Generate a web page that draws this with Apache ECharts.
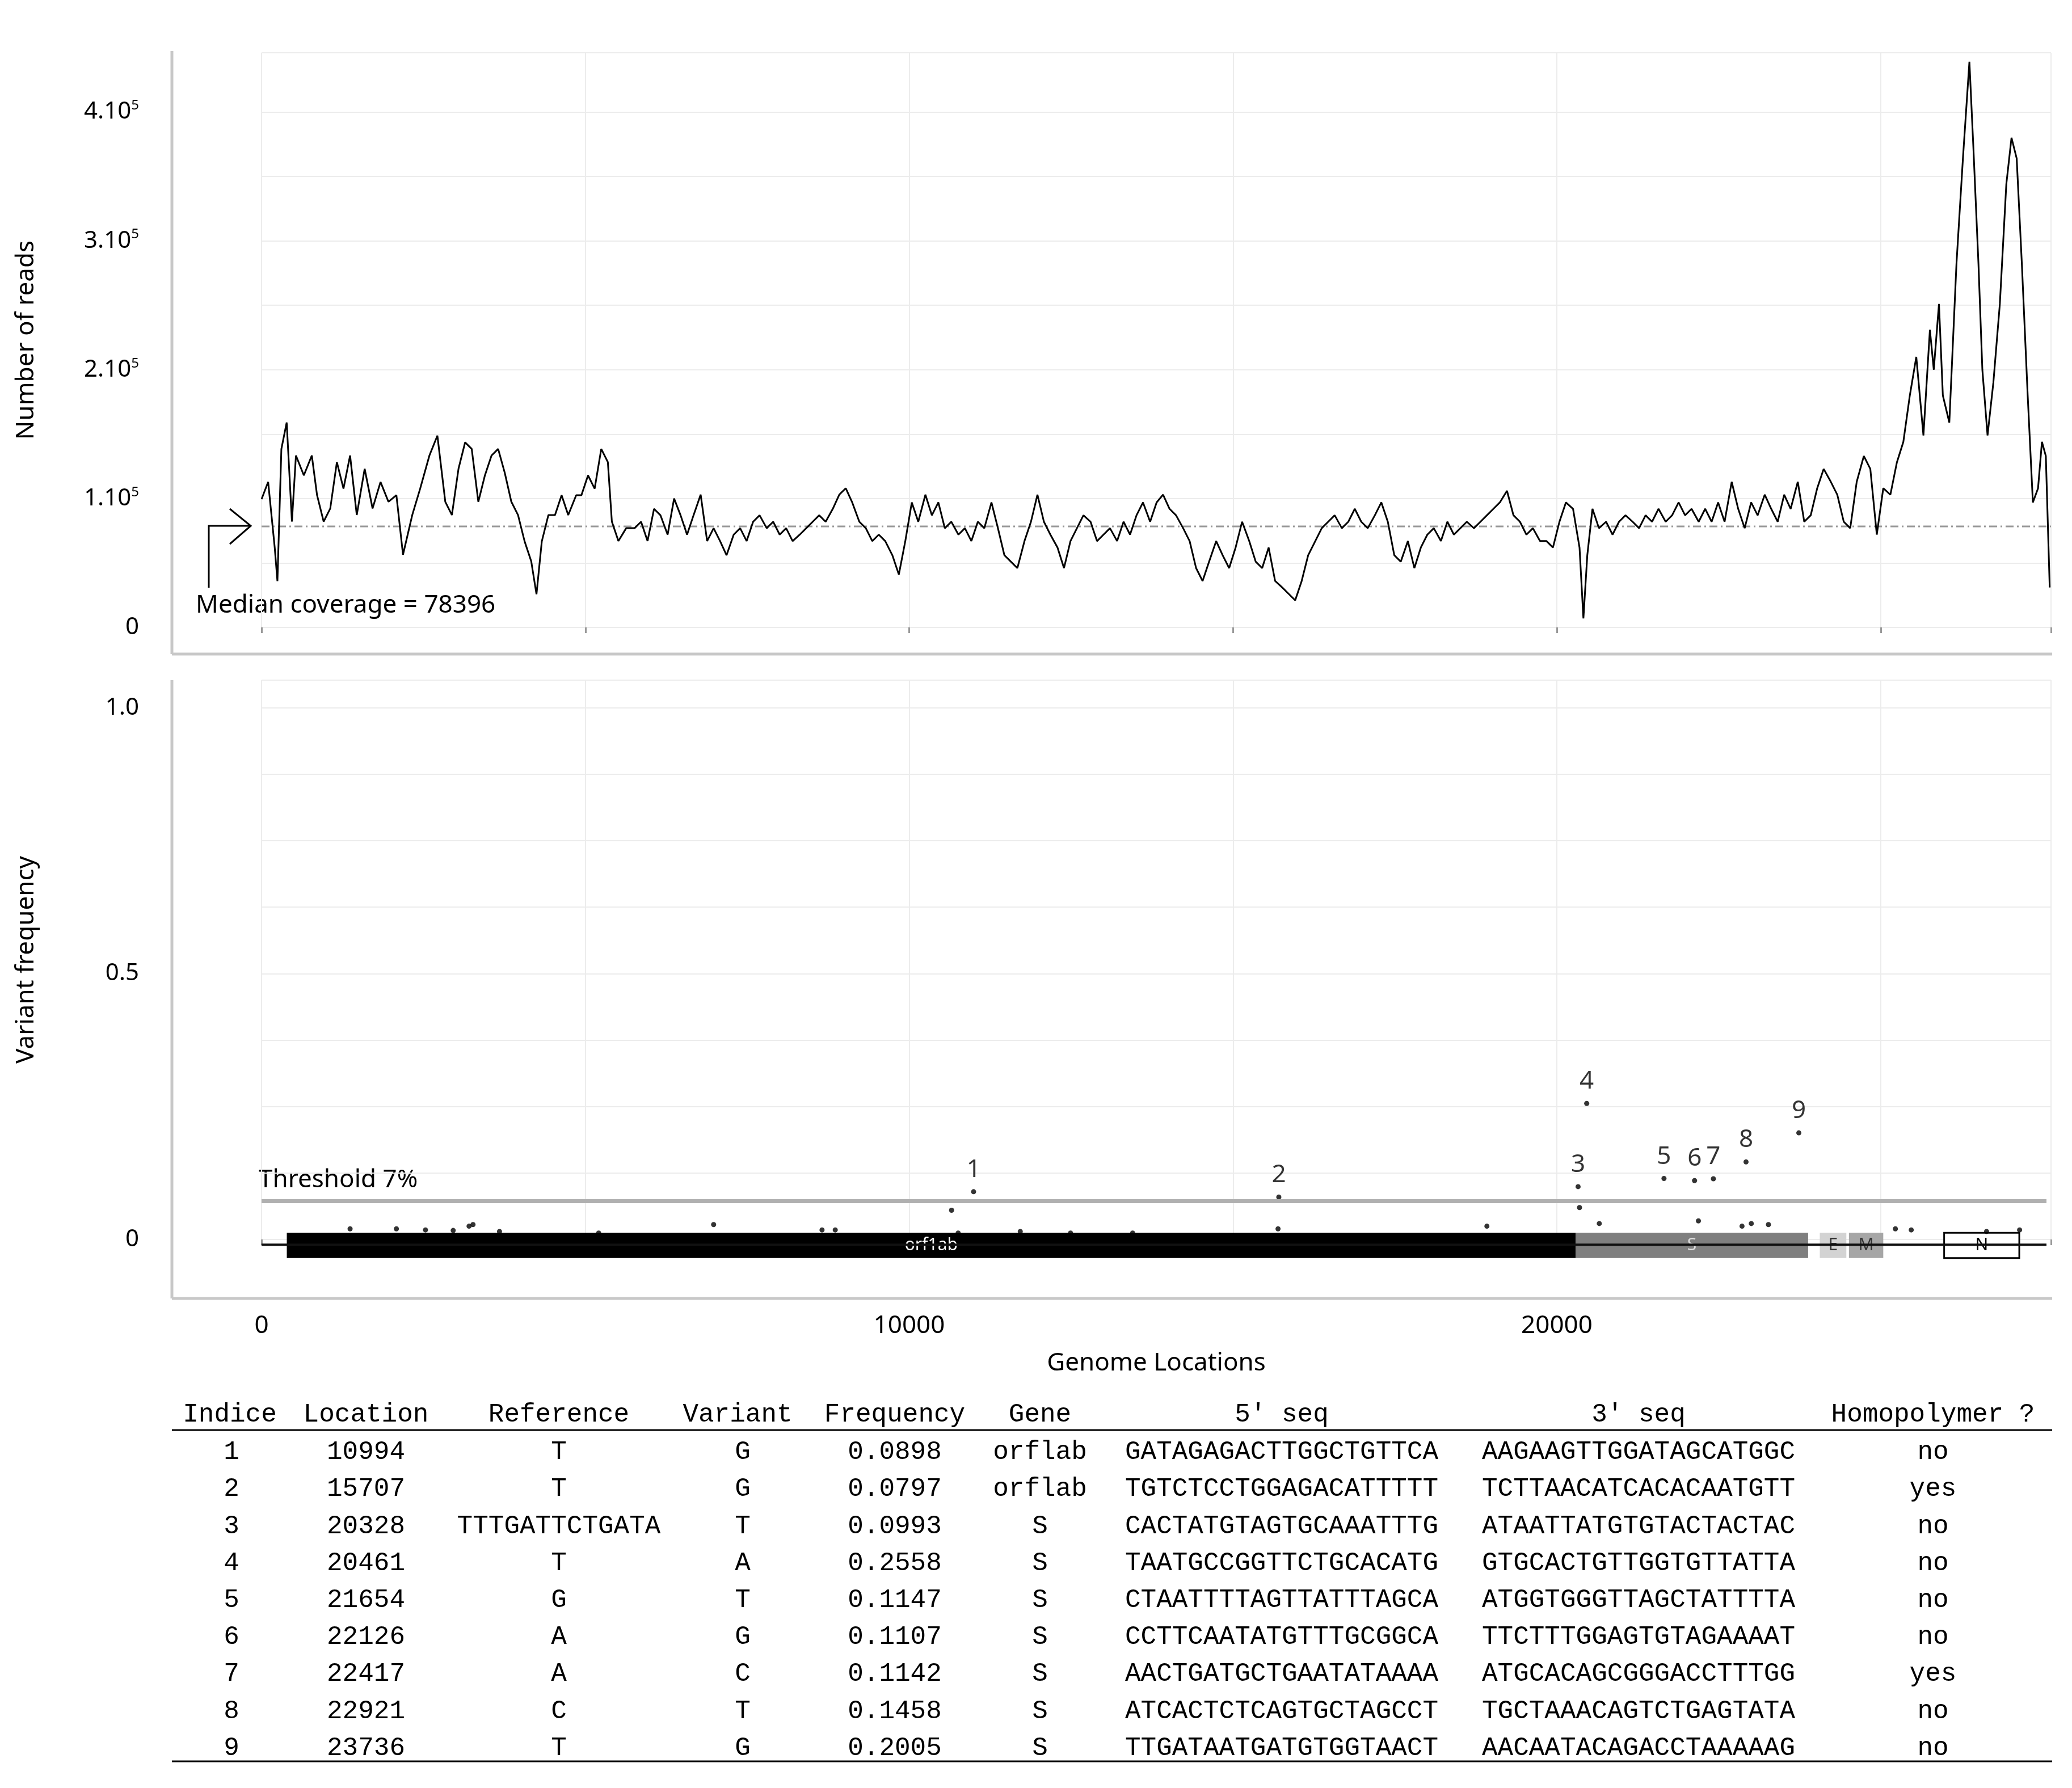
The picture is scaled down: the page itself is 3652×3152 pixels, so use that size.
<!DOCTYPE html>
<html><head><meta charset="utf-8">
<script src="https://cdn.jsdelivr.net/npm/echarts@6/dist/echarts.min.js"></script>
<style>html,body{margin:0;padding:0;background:#fff}#c{width:3652px;height:3152px}</style>
</head><body><div id="c"></div>
<script>
// coverage: [genome location, reads in thousands]
const coverage = [
[0,99.5],[102,112.9],[204,61.6],[245,35.9],[306,138.5],[388,159],[469,82.1],[531,133.4],[653,118],[776,133.4],[857,102.6],[959,82.1],[1061,92.3],[1163,128.3],[1265,107.7],[1367,133.4],[1470,87.2],[1592,123.1],[1714,92.3],[1837,112.9],[1959,97.5],[2082,102.6],[2184,56.4],[2327,87.2],[2449,107.7],[2592,133.4],[2715,148.8],[2837,97.5],[2939,87.2],[3041,123.1],[3143,143.6],[3245,138.5],[3347,97.5],[3449,118],[3551,133.4],[3653,138.5],[3755,120],[3857,97.5],[3960,87.2],[4062,66.7],[4164,51.3],[4245,25.7],[4327,66.7],[4429,87.2],[4531,87.2],[4633,102.6],[4735,87.2],[4858,102.6],[4939,102.6],[5041,118],[5143,107.7],[5245,138.5],[5347,128.3],[5409,82.1],
[5510,67],[5630,77],[5760,77],[5860,82],[5960,67],[6060,92],[6160,87],[6270,72],[6370,100],[6470,87],[6570,72],[6670,87],[6780,103],[6880,67],[6980,77],[7080,67],[7180,56],[7290,72],[7390,77],[7490,67],[7590,82],[7690,87],[7800,77],[7900,82],[8000,72],[8100,77],[8200,67],[8310,72],[8410,77],[8510,82],[8610,87],[8710,82],[8820,92],[8920,103],[9020,108],[9120,97],[9230,82],[9330,77],[9430,67],[9530,72],[9630,67],[9740,56],[9840,41],[9940,67],[10040,97],[10140,82],[10250,103],[10350,87],[10450,97],[10550,77],[10650,82],[10760,72],[10860,77],[10960,67],[11060,82],[11160,77],[11270,97],[11370,77],[11470,56],[11570,51],[11670,46],[11780,67],[11880,82],[11980,103],[12080,82],[12180,72],[12290,62],[12390,46],[12490,67],[12590,77],[12690,87],[12800,82],[12900,67],[13000,72],[13100,77],[13210,67],[13310,82],[13410,72],[13510,87],[13610,97],[13720,82],[13820,97],[13920,103],[14020,92],[14120,87],[14230,77],[14330,67],[14430,46],[14530,36],[14630,51],[14740,67],[14840,56],[14940,46],[15040,62],[15140,82],[15250,67],[15350,51],[15450,46],[15550,62],[15650,36],[15760,31],[15860,26],[15960,21],[16060,36],[16160,56],[16270,67],[16370,77],[16470,82],[16570,87],[16680,77],[16780,82],[16880,92],[16980,82],[17080,77],[17190,87],[17290,97],[17390,82],[17490,56],[17590,51],[17700,67],[17800,46],[17900,62],[18000,72],[18100,77],[18210,67],[18310,82],[18410,72],[18510,77],[18610,82],[18720,77],[18820,82],[18920,87],[19020,92],[19120,97],[19230,106],[19330,87],[19430,82],[19530,72],[19630,77],[19740,67],[19840,67],[19940,62],[20040,82],[20140,97],[20250,92],[20350,62],[20410,7],[20470,56],[20550,92],[20650,77],[20760,82],[20860,72],[20960,82],[21060,87],[21170,82],[21270,77],[21370,87],[21470,82],[21570,92],[21680,82],[21780,87],[21880,97],[21980,87],[22080,92],[22190,82],[22290,92],[22390,82],[22490,97],[22590,82],[22700,113],[22800,92],[22900,77],[23000,97],[23100,87],[23210,103],[23310,92],[23410,82],[23510,103],[23610,92],[23720,113],[23820,82],[23920,87],[24020,108],[24120,123],[24230,113],[24330,103],[24430,82],[24530,77],[24630,113],[24740,133],[24840,123],[24940,72],[25040,108],[25150,103],[25250,128],[25350,144],[25450,180],[25550,210],[25660,149],[25760,231],[25820,200],[25900,251],[25960,180],[26060,159],[26170,282],[26270,364],[26370,439],[26430,374],[26510,282],[26570,200],[26650,149],[26740,190],[26840,251],[26940,344],[27020,380],[27100,364],[27180,282],[27270,180],[27350,97],[27430,108],[27490,144],[27550,133],[27610,31]
];
const medianCoverage = 78.396; // thousands
const genomeEnd = 27560;
const threshold = 0.072;
// minor variants below threshold: [location, frequency]
const minorVariants = [[1367,0.02],[2082,0.02],[2531,0.018],[2959,0.017],[3204,0.025],[3265,0.028],[3674,0.015],[5205,0.012],[6980,0.028],[8654,0.018],[8858,0.018],[10654,0.055],[10756,0.012],[11715,0.015],[12491,0.012],[13450,0.012],[15695,0.02],[18920,0.025],[20350,0.06],[20655,0.03],[22186,0.035],[22859,0.025],[23002,0.03],[23267,0.028],[25227,0.02],[25472,0.018],[26635,0.015],[27145,0.018]];
// genes
const geneNames = ['orf1ab','S','E','M','N'];
const geneStart = [390,20290,24060,24510,25980];
const geneEnd = [20290,23880,24470,25040,27140];
// table
const tblHeader = ['Indice','Location','Reference','Variant','Frequency','Gene',"5' seq","3' seq",'Homopolymer ?'];
const tblIndice = [1,2,3,4,5,6,7,8,9];
const tblLoc = [10994,15707,20328,20461,21654,22126,22417,22921,23736];
const tblRef = ['T','T','TTTGATTCTGATA','T','G','A','A','C','T'];
const tblVar = ['G','G','T','A','T','G','C','T','G'];
const tblFreq = [0.0898,0.0797,0.0993,0.2558,0.1147,0.1107,0.1142,0.1458,0.2005];
const tblGene = ['orflab','orflab','S','S','S','S','S','S','S'];
const tbl5 = ['GATAGAGACTTGGCTGTTCA','TGTCTCCTGGAGACATTTTT','CACTATGTAGTGCAAATTTG','TAATGCCGGTTCTGCACATG','CTAATTTTAGTTATTTAGCA','CCTTCAATATGTTTGCGGCA','AACTGATGCTGAATATAAAA','ATCACTCTCAGTGCTAGCCT','TTGATAATGATGTGGTAACT'];
const tbl3 = ['AAGAAGTTGGATAGCATGGC','TCTTAACATCACACAATGTT','ATAATTATGTGTACTACTAC','GTGCACTGTTGGTGTTATTA','ATGGTGGGTTAGCTATTTTA','TTCTTTGGAGTGTAGAAAAT','ATGCACAGCGGGACCTTTGG','TGCTAAACAGTCTGAGTATA','AACAATACAGACCTAAAAAG'];
const tblHomo = ['no','yes','no','no','no','no','yes','no','no'];

const chart = echarts.init(document.getElementById('c'), null, {renderer:'canvas'});
const F = 'Noto Sans';
const geneFill = ['#000','#7f7f7f','#d3d3d3','#a6a6a6','#fff'];
const geneText = ['#fff','#ddd','#333','#333','#000'];

// table graphics
const colX = [408,645,985,1309,1577,1833,2259,2888,3407];
const hdrX = [405,645,985,1300,1577,1833,2259,2888,3407];
const mono = {fontFamily:'Liberation Mono', fontSize:46, fill:'#000', align:'center', verticalAlign:'middle'};
const g = [];
tblHeader.forEach((h,i)=>g.push({type:'text', x:hdrX[i], y:2494, style:Object.assign({text:h}, mono)}));
const cols = [tblIndice,tblLoc,tblRef,tblVar,tblFreq.map(v=>v.toFixed(4)),tblGene,tbl5,tbl3,tblHomo];
for(let r=0;r<9;r++){
  cols.forEach((c,i)=>g.push({type:'text', x:colX[i], y:2560+65.2*r, style:Object.assign({text:String(c[r])}, mono)}));
}
g.push({type:'line', shape:{x1:303,y1:2521,x2:3617,y2:2521}, style:{stroke:'#000', lineWidth:3}});
g.push({type:'line', shape:{x1:303,y1:3105,x2:3617,y2:3105}, style:{stroke:'#000', lineWidth:3}});
// axis frame lines
const ax = {stroke:'#c8c8c8', lineWidth:5};
g.push({type:'line', shape:{x1:303,y1:90,x2:303,y2:1153}, style:ax});
g.push({type:'line', shape:{x1:303,y1:1153,x2:3617,y2:1153}, style:ax});
g.push({type:'line', shape:{x1:303,y1:1199,x2:303,y2:2289}, style:ax});
g.push({type:'line', shape:{x1:303,y1:2289,x2:3617,y2:2289}, style:ax});
// median arrow
g.push({type:'polyline', shape:{points:[[368,1036],[368,927],[442,927]]}, style:{stroke:'#000', lineWidth:3, fill:null}});
g.push({type:'polyline', shape:{points:[[405,897],[442,927],[405,959]]}, style:{stroke:'#000', lineWidth:3, fill:null}});
g.push({type:'text', x:345, y:1067, style:{text:'Median coverage = 78396', fontFamily:F, fontSize:44, fill:'#000', verticalAlign:'middle'}});
g.push({type:'text', x:456, y:2080, style:{text:'Threshold 7%', fontFamily:F, fontSize:44, fill:'#000', verticalAlign:'middle'}});

const xBase = {type:'value', min:0, max:27630, interval:5000,
  axisLine:{show:false},
  axisTick:{show:true, length:10, lineStyle:{color:'#999', width:3}, interval:(i,v)=>v%10000===0},
  splitLine:{show:true, lineStyle:{color:'#ececec', width:2}}};

chart.setOption({
  animation:false,
  textStyle:{fontFamily:F},
  grid:[{left:461,right:37,top:93,bottom:2046},{left:461,right:37,top:1199,bottom:967}],
  xAxis:[
    Object.assign({}, xBase, {gridIndex:0, offset:47, axisLabel:{show:false}}),
    Object.assign({}, xBase, {gridIndex:1, offset:104,
      axisLabel:{margin:26, fontSize:44, color:'#000', formatter:v=>v%10000===0?String(v):''},
      name:'Genome Locations', nameLocation:'middle', nameGap:92, nameTextStyle:{fontSize:44, color:'#000'}})
  ],
  yAxis:[
    {type:'value', gridIndex:0, min:0, max:446, interval:50, offset:158,
     axisLine:{show:false}, axisTick:{show:false},
     splitLine:{lineStyle:{color:'#ececec', width:2}},
     axisLabel:{margin:58, fontSize:42, color:'#000',
       formatter:v=>v===0?'0':(v%100===0?(v/100)+'.10{s|5}':''),
       rich:{s:{fontSize:24, padding:[0,0,22,0], color:'#000'}}},
     name:'Number of reads', nameLocation:'middle', nameGap:235, nameTextStyle:{fontSize:44, color:'#000'}},
    {type:'value', gridIndex:1, min:0, max:1.052, interval:0.125, offset:158,
     axisLine:{show:false}, axisTick:{show:false},
     splitLine:{lineStyle:{color:'#ececec', width:2}},
     axisLabel:{margin:58, fontSize:42, color:'#000',
       formatter:v=>v===0?'0':(Math.abs(v%0.5)<1e-9?v.toFixed(1):'')},
     name:'Variant frequency', nameLocation:'middle', nameGap:235, nameTextStyle:{fontSize:44, color:'#000'}}
  ],
  series:[
    {type:'line', xAxisIndex:0, yAxisIndex:0, data:[[0,medianCoverage],[27630,medianCoverage]], symbol:'none', silent:true,
     lineStyle:{color:'#999', width:3, type:[14,6,3,6]}},
    {type:'line', xAxisIndex:0, yAxisIndex:0, data:coverage, symbol:'none', lineStyle:{color:'#000', width:3}},
    {type:'line', xAxisIndex:1, yAxisIndex:1, data:[[0,threshold],[genomeEnd,threshold]], symbol:'none', lineStyle:{color:'#b0b0b0', width:7}},
    {type:'line', xAxisIndex:1, yAxisIndex:1, data:[[0,-0.01],[genomeEnd,-0.01]], symbol:'none', clip:false, lineStyle:{color:'#111', width:4}},
    {type:'custom', xAxisIndex:1, yAxisIndex:1, clip:false,
     data:geneNames.map((n,i)=>[geneStart[i],geneEnd[i],i]),
     renderItem:(params, api)=>{
       const i = api.value(2);
       const p0 = api.coord([api.value(0), 0.0125]);
       const p1 = api.coord([api.value(1), -0.035]);
       return {type:'group', children:[
         {type:'rect', shape:{x:p0[0], y:p0[1], width:p1[0]-p0[0], height:p1[1]-p0[1]},
          style:{fill:geneFill[i], stroke:i===4?'#000':null, lineWidth:i===4?3:0}},
         {type:'text', x:(p0[0]+p1[0])/2, y:(p0[1]+p1[1])/2,
          style:{text:geneNames[i], fill:geneText[i], fontSize:30, fontFamily:F, align:'center', verticalAlign:'middle'}}
       ]};
     }},
    {type:'scatter', xAxisIndex:1, yAxisIndex:1, data:minorVariants, symbolSize:9, itemStyle:{color:'#000'}},
    {type:'scatter', xAxisIndex:1, yAxisIndex:1, data:tblLoc.map((l,i)=>[l,tblFreq[i],tblIndice[i]]), symbolSize:9, itemStyle:{color:'#000'},
     label:{show:true, position:'top', distance:12, fontSize:44, color:'#000', fontFamily:F, formatter:p=>String(p.value[2])}}
  ],
  graphic:g
});
</script></body></html>
